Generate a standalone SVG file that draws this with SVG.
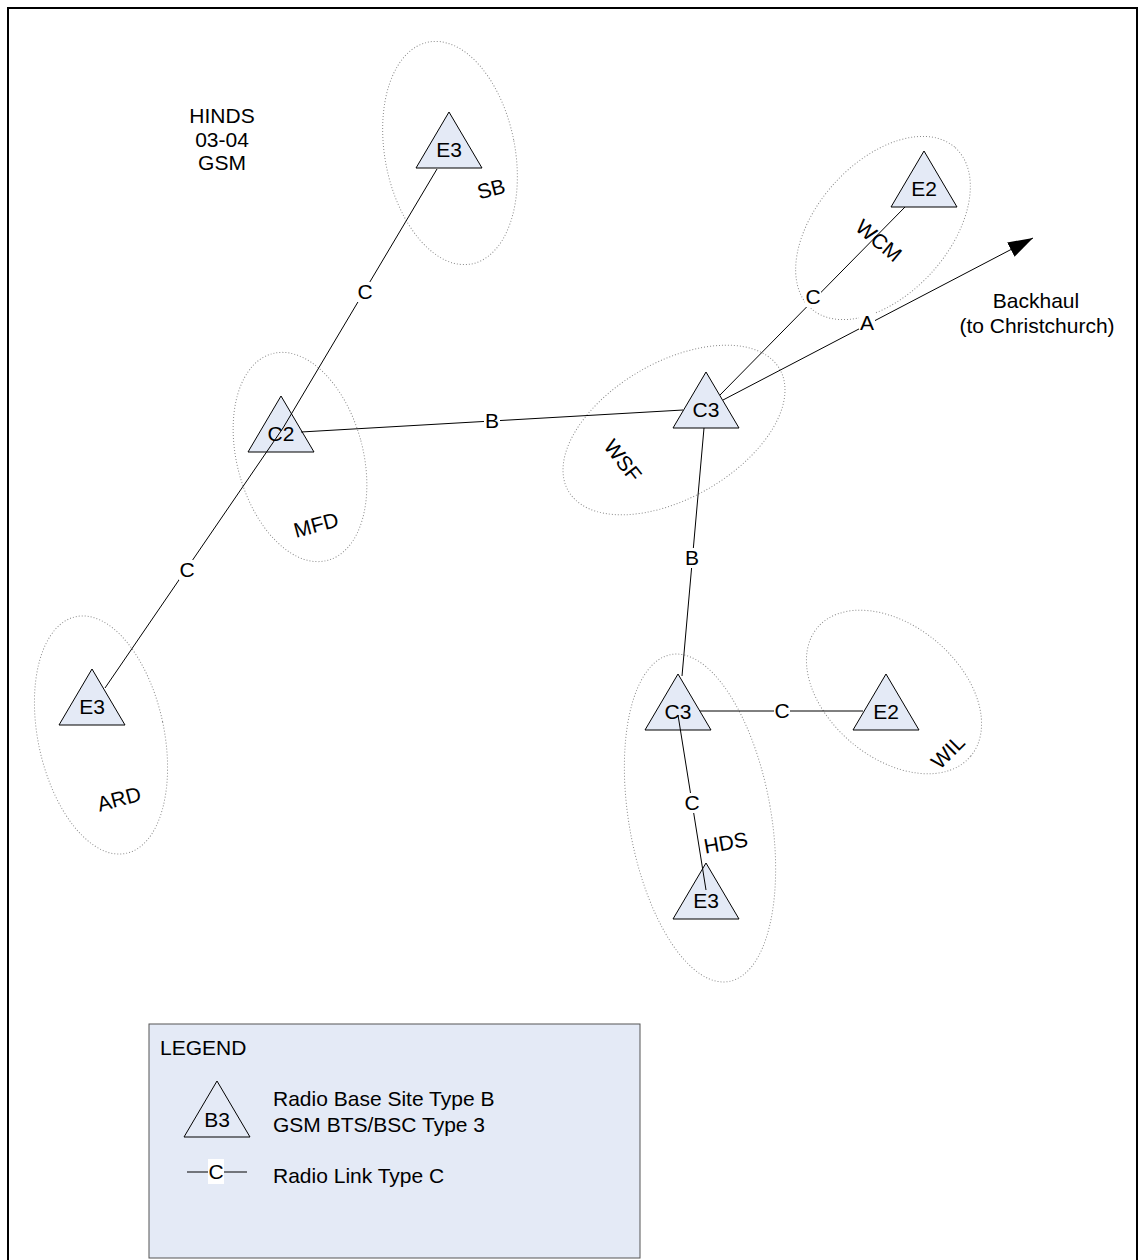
<svg xmlns="http://www.w3.org/2000/svg" width="1138" height="1260" viewBox="0 0 1138 1260">
  <defs>
    <style>
      text { font-family: "Liberation Sans", Arial, sans-serif; font-size: 21px; fill: #000; }
      .mid { text-anchor: middle; }
      .zone { fill: none; stroke: #8a8a8a; stroke-width: 1; stroke-dasharray: 1 2; }
      .site { fill: #e4eaf6; stroke: #000; stroke-width: 1; }
      .link { stroke: #000; stroke-width: 1; fill: none; }
      .gap { fill: #fff; }
    </style>
    <marker id="arrow" markerUnits="userSpaceOnUse" markerWidth="26" markerHeight="18" refX="25" refY="8" orient="auto">
      <path d="M0,0 L25,8 L0,16 Z" fill="#000"/>
    </marker>
    <path id="tri" d="M0,0 L33,56 L-33,56 Z"/>
  </defs>

  <rect width="1138" height="1260" fill="#fff"/>
  <!-- page frame -->
  <path d="M8,1260 V8 H1137 V1260" fill="none" stroke="#000" stroke-width="2"/>

  <!-- title -->
  <g id="title">
    <text class="mid" x="222" y="123">HINDS</text>
    <text class="mid" x="222" y="147">03-04</text>
    <text class="mid" x="222" y="170">GSM</text>
  </g>

  <!-- coverage zones -->
  <g id="zones">
    <ellipse class="zone" cx="450" cy="153" rx="65" ry="113" transform="rotate(-11 450 153)"/>
    <ellipse class="zone" cx="300" cy="457" rx="63" ry="107" transform="rotate(-15 300 457)"/>
    <ellipse class="zone" cx="101" cy="735" rx="63" ry="121" transform="rotate(-12 101 735)"/>
    <ellipse class="zone" cx="674" cy="430" rx="122" ry="68" transform="rotate(-30 674 430)"/>
    <ellipse class="zone" cx="883" cy="228" rx="108" ry="66" transform="rotate(-48 883 228)"/>
    <ellipse class="zone" cx="700" cy="818" rx="71" ry="166" transform="rotate(-10 700 818)"/>
    <ellipse class="zone" cx="894" cy="692" rx="100" ry="66" transform="rotate(40 894 692)"/>
  </g>

  <!-- sites -->
  <g id="SB">
    <use href="#tri" class="site" x="449" y="112"/>
    <text class="mid" x="449" y="157">E3</text>
    <text class="mid" transform="translate(493 196) rotate(-15)">SB</text>
  </g>
  <g id="MFD">
    <use href="#tri" class="site" x="281" y="396"/>
    <text class="mid" x="281" y="441">C2</text>
    <text class="mid" transform="translate(318 532) rotate(-15)">MFD</text>
  </g>
  <g id="ARD">
    <use href="#tri" class="site" x="92" y="669"/>
    <text class="mid" x="92" y="714">E3</text>
    <text class="mid" transform="translate(121 806) rotate(-15)">ARD</text>
  </g>
  <g id="WSF">
    <use href="#tri" class="site" x="706" y="372"/>
    <text class="mid" x="706" y="417">C3</text>
    <text class="mid" transform="translate(617 465) rotate(52)">WSF</text>
  </g>
  <g id="WCM">
    <use href="#tri" class="site" x="924" y="151"/>
    <text class="mid" x="924" y="196">E2</text>
    <text class="mid" transform="translate(874 246) rotate(40)">WCM</text>
  </g>
  <g id="HDS">
    <use href="#tri" class="site" x="678" y="674"/>
    <text class="mid" x="678" y="719">C3</text>
    <text class="mid" transform="translate(727 850) rotate(-10)">HDS</text>
  </g>
  <g id="WIL">
    <use href="#tri" class="site" x="886" y="674"/>
    <text class="mid" x="886" y="719">E2</text>
    <text class="mid" transform="translate(953 757) rotate(-45)">WIL</text>
  </g>
  <g id="HDS-E3">
    <use href="#tri" class="site" x="706" y="863"/>
    <text class="mid" x="706" y="908">E3</text>
  </g>

  <!-- radio links -->
  <g id="links">
    <line class="link" x1="437" y1="169" x2="283" y2="428"/>
    <line class="link" x1="283" y1="428" x2="105" y2="688"/>
    <line class="link" x1="301" y1="432" x2="683" y2="410"/>
    <line class="link" x1="905" y1="207" x2="720" y2="395"/>
    <line class="link" x1="723" y1="400" x2="1033" y2="238" marker-end="url(#arrow)"/>
    <line class="link" x1="704" y1="428" x2="682" y2="676"/>
    <line class="link" x1="700" y1="711" x2="863" y2="711"/>
    <line class="link" x1="678" y1="715" x2="706" y2="890"/>

    <rect class="gap" x="357" y="282" width="16" height="20"/>
    <text class="mid" x="365" y="299">C</text>
    <rect class="gap" x="179" y="560" width="16" height="20"/>
    <text class="mid" x="187" y="577">C</text>
    <rect class="gap" x="484" y="411" width="16" height="20"/>
    <text class="mid" x="492" y="428">B</text>
    <rect class="gap" x="805" y="287" width="16" height="20"/>
    <text class="mid" x="813" y="304">C</text>
    <rect class="gap" x="859" y="313" width="16" height="20"/>
    <text class="mid" x="867" y="330">A</text>
    <rect class="gap" x="684" y="548" width="16" height="20"/>
    <text class="mid" x="692" y="565">B</text>
    <rect class="gap" x="774" y="701" width="16" height="20"/>
    <text class="mid" x="782" y="718">C</text>
    <rect class="gap" x="684" y="793" width="16" height="20"/>
    <text class="mid" x="692" y="810">C</text>
  </g>

  <g id="backhaul">
    <text class="mid" x="1036" y="308">Backhaul</text>
    <text class="mid" x="1037" y="333">(to Christchurch)</text>
  </g>

  <!-- legend -->
  <g id="legend">
    <rect x="149" y="1024" width="491" height="234" fill="#e4eaf6" stroke="#555" stroke-width="1"/>
    <text x="160" y="1055">LEGEND</text>
    <use href="#tri" x="217" y="1081" fill="none" stroke="#000" stroke-width="1"/>
    <text class="mid" x="217" y="1127">B3</text>
    <text x="273" y="1106">Radio Base Site Type B</text>
    <text x="273" y="1132">GSM BTS/BSC Type 3</text>
    <line class="link" x1="187" y1="1172" x2="247" y2="1172"/>
    <rect class="gap" x="208" y="1159" width="16" height="25"/>
    <text class="mid" x="216" y="1179">C</text>
    <text x="273" y="1183">Radio Link Type C</text>
  </g>
</svg>
